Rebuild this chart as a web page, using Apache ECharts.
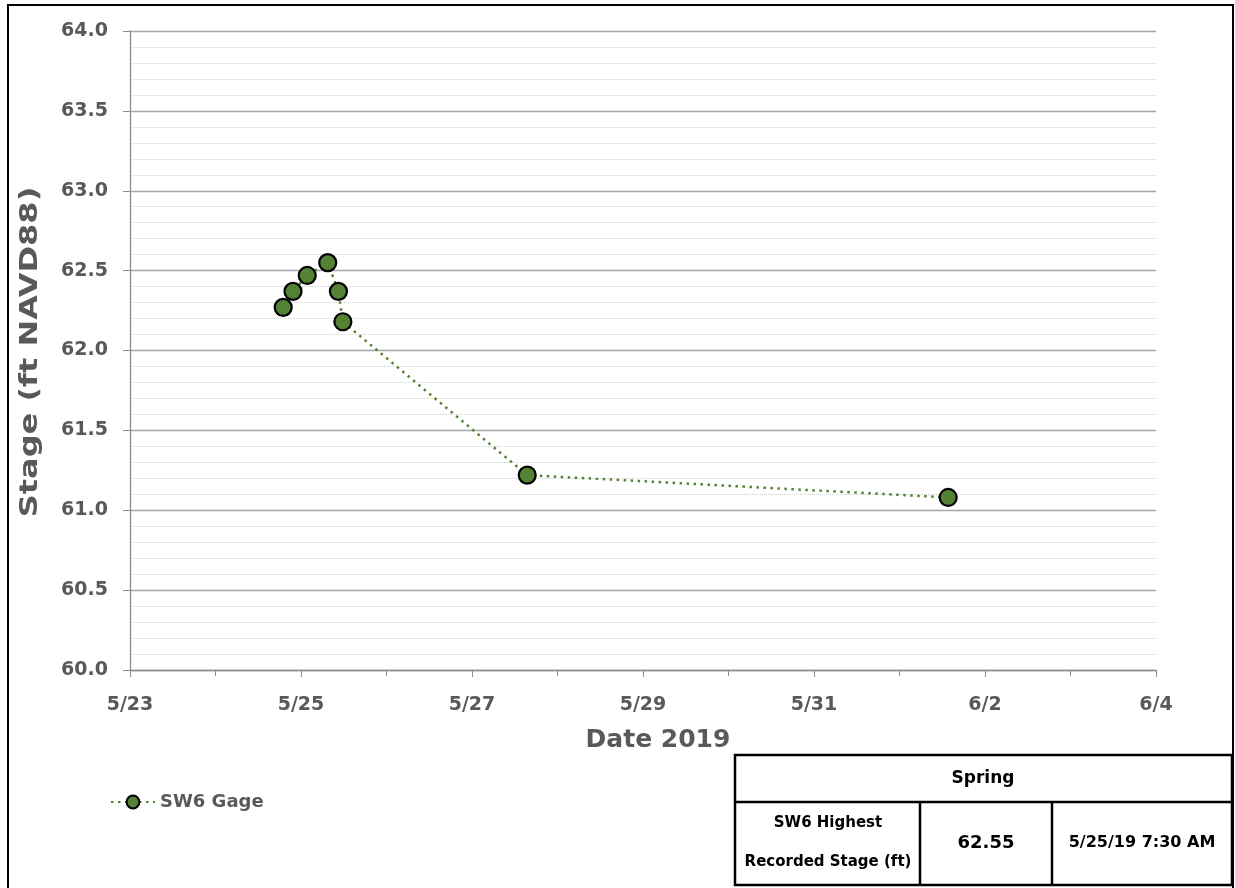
<!DOCTYPE html>
<html>
<head>
<meta charset="utf-8">
<script src="https://cdn.jsdelivr.net/npm/echarts@6/dist/echarts.min.js"></script>
<style>
html,body{margin:0;padding:0;background:#fff;}
#chart{width:1235px;height:888px;}
</style>
</head>
<body>
<div id="chart"></div>
<script>
// Data
const seriesName = 'SW6 Gage';
const dates = ['2019-05-24 19:00', '2019-05-24 21:45', '2019-05-25 01:45', '2019-05-25 07:30',
               '2019-05-25 10:30', '2019-05-25 11:45', '2019-05-27 15:30', '2019-06-01 13:40'];
const stages = [62.27, 62.37, 62.47, 62.55, 62.37, 62.18, 61.22, 61.08];
const yTickLabels = ['60.0', '60.5', '61.0', '61.5', '62.0', '62.5', '63.0', '63.5', '64.0'];
const xStartDate = '2019-05-23';
const xEndDate = '2019-06-04';
const xTitle = 'Date 2019';
const yTitle = 'Stage (ft NAVD88)';
const tableTitle = 'Spring';
const tableRow = ['SW6 Highest\nRecorded Stage (ft)', '62.55', '5/25/19 7:30 AM'];

function toUTC(s) {
  const [d, t] = s.split(' ');
  const [Y, M, D] = d.split('-').map(Number);
  const [h, m] = (t || '00:00').split(':').map(Number);
  return Date.UTC(Y, M - 1, D, h, m);
}
const DAY = 86400000;
const base = toUTC(xStartDate);
const xMax = (toUTC(xEndDate) - base) / DAY;
const data = dates.map((d, i) => [(toUTC(d) - base) / DAY, stages[i]]);

const labelColor = '#595959';
const font = '"DejaVu Sans", sans-serif';

const chart = echarts.init(document.getElementById('chart'));
chart.setOption({
  animation: false,
  backgroundColor: '#ffffff',
  grid: { left: 130, right: 79, top: 31, bottom: 218, containLabel: false },
  xAxis: {
    type: 'value', min: 0, max: xMax, interval: 2,
    name: xTitle, nameLocation: 'middle', nameGap: 58,
    nameTextStyle: { color: labelColor, fontSize: 25, fontWeight: 'bold', fontFamily: font, padding: [0, 0, 0, 30] },
    axisLine: { show: true, lineStyle: { color: '#8c8c8c', width: 1.3 } },
    axisTick: { show: true, length: 7, lineStyle: { color: '#8c8c8c' } },
    minorTick: { show: true, splitNumber: 2, length: 6, lineStyle: { color: '#8c8c8c' } },
    splitLine: { show: false },
    axisLabel: {
      color: labelColor, fontSize: 19, fontWeight: 'bold', fontFamily: font, margin: 26,
      formatter: v => { const dt = new Date(base + v * DAY); return (dt.getUTCMonth() + 1) + '/' + dt.getUTCDate(); }
    }
  },
  yAxis: {
    type: 'value', min: 60, max: 64, interval: 0.5,
    axisLine: { show: true, lineStyle: { color: '#8c8c8c', width: 1.3 } },
    axisTick: { show: true, length: 7, lineStyle: { color: '#8c8c8c' } },
    splitLine: { show: true, lineStyle: { color: '#a6a6a6', width: 1.3 } },
    minorSplitLine: { show: true, lineStyle: { color: '#d0d0d0', type: [1, 1], width: 1 } },
    minorTick: { show: false, splitNumber: 5 },
    axisLabel: {
      color: labelColor, fontSize: 19, fontWeight: 'bold', fontFamily: font, margin: 22,
      formatter: v => yTickLabels[Math.round((v - 60) / 0.5)] || v.toFixed(1)
    }
  },
  legend: {
    data: [seriesName], left: 105, top: 788, itemWidth: 44, itemHeight: 16, itemGap: 6,
    textStyle: { color: labelColor, fontSize: 18, fontWeight: 'bold', fontFamily: font }
  },
  series: [{
    name: seriesName, type: 'line', data: data,
    symbol: 'circle', symbolSize: 17,
    lineStyle: { color: '#548235', width: 2.5, type: [2.5, 4.5] },
    itemStyle: { color: '#548235', borderColor: '#000000', borderWidth: 2.2 },
    z: 5
  }],
  graphic: [
    { type: 'text', x: 30, y: 352, rotation: Math.PI / 2, scaleX: 1.28, z: 50,
      style: { text: yTitle, fill: labelColor, font: 'bold 25px ' + font, align: 'center', verticalAlign: 'middle' } },
    { type: 'rect', shape: { x: 8, y: 5, width: 1225, height: 895 },
      style: { fill: 'none', stroke: '#000', lineWidth: 2 }, silent: true, z: 100 },
    { type: 'rect', shape: { x: 735, y: 755, width: 497, height: 130 },
      style: { fill: '#fff', stroke: '#000', lineWidth: 2.5 }, z: 100 },
    { type: 'line', shape: { x1: 735, y1: 802, x2: 1232, y2: 802 }, style: { stroke: '#000', lineWidth: 2.5 }, z: 101 },
    { type: 'line', shape: { x1: 920, y1: 802, x2: 920, y2: 885 }, style: { stroke: '#000', lineWidth: 2.5 }, z: 101 },
    { type: 'line', shape: { x1: 1052, y1: 802, x2: 1052, y2: 885 }, style: { stroke: '#000', lineWidth: 2.5 }, z: 101 },
    { type: 'text', x: 983, y: 779, z: 102,
      style: { text: tableTitle, fill: '#000', font: 'bold 17px ' + font, align: 'center', verticalAlign: 'middle' } },
    { type: 'text', x: 828, y: 843, z: 102,
      style: { text: tableRow[0], fill: '#000', font: 'bold 15px ' + font, align: 'center', verticalAlign: 'middle', lineHeight: 39 } },
    { type: 'text', x: 986, y: 843, z: 102,
      style: { text: tableRow[1], fill: '#000', font: 'bold 18px ' + font, align: 'center', verticalAlign: 'middle' } },
    { type: 'text', x: 1142, y: 843, z: 102,
      style: { text: tableRow[2], fill: '#000', font: 'bold 16px ' + font, align: 'center', verticalAlign: 'middle' } }
  ]
});
</script>
</body>
</html>
